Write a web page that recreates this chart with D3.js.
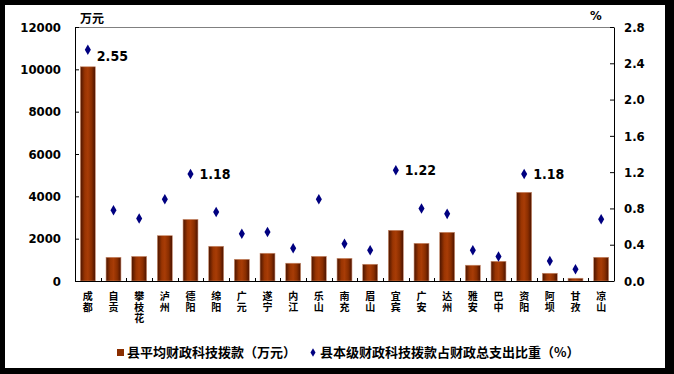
<!DOCTYPE html>
<html><head><meta charset="utf-8">
<script src="https://cdn.jsdelivr.net/npm/d3@7"></script>
<style>
html,body{margin:0;padding:0;background:#fff;}
svg{display:block;}
.num{font-family:"Liberation Sans Narrow","DejaVu Sans Condensed","Arial Narrow",sans-serif;font-weight:bold;}
.cjk{font-family:"Noto Sans CJK SC","Noto Sans",sans-serif;font-weight:bold;}
.vert{writing-mode:vertical-rl;text-orientation:upright;}
</style></head>
<body>
<svg id="chart" width="674" height="374"></svg>
<script>
const categories = ["成都","自贡","攀枝花","泸州","德阳","绵阳","广元","遂宁","内江","乐山","南充","眉山","宜宾","广安","达州","雅安","巴中","资阳","阿坝","甘孜","凉山"];
const avgFunds = [10120,1120,1160,2140,2910,1640,1025,1310,840,1165,1070,790,2395,1780,2300,745,930,4190,365,130,1120];
const sharePct = [2.55,0.78,0.69,0.90,1.18,0.76,0.52,0.54,0.36,0.90,0.41,0.34,1.22,0.80,0.74,0.34,0.27,1.18,0.22,0.13,0.68];
const labelledPoints = ["成都","德阳","宜宾","资阳"];
const leftTicks = [0,2000,4000,6000,8000,10000,12000];
const rightTicks = [0,0.4,0.8,1.2,1.6,2.0,2.4,2.8];
const seriesNames = ["县平均财政科技拨款（万元）","县本级财政科技拨款占财政总支出比重（%）"];
const leftUnit = "万元", rightUnit = "%";

const svg = d3.select("#chart");
svg.append("rect").attr("width",674).attr("height",374).attr("fill","#000");
svg.append("rect").attr("x",5).attr("y",5).attr("width",660).attr("height",363).attr("fill","#fff");

const L=75,R=614,T=27,B=281;
const x = d3.scaleBand().domain(categories).range([L,R]).padding(0);
const yL = d3.scaleLinear().domain([0,12000]).range([B,T]);
const yR = d3.scaleLinear().domain([0,2.8]).range([B,T]);

const defs = svg.append("defs");
const g = defs.append("linearGradient").attr("id","barGrad").attr("x1","0").attr("x2","1").attr("y1","0").attr("y2","0");
[[0,"#4a1400"],[0.3,"#9a3502"],[0.5,"#a83c06"],[0.75,"#8a2e00"],[1,"#4a1200"]].forEach(([o,c])=>g.append("stop").attr("offset",o).attr("stop-color",c));

// top frame line
svg.append("line").attr("x1",L).attr("x2",R).attr("y1",T+0.5).attr("y2",T+0.5).attr("stroke","#808080").attr("stroke-width",1);

const bw = x.bandwidth()*0.58;
svg.append("g").selectAll("rect").data(categories).join("rect")
  .attr("x",(d)=>x(d)+x.bandwidth()/2-bw/2)
  .attr("y",(d,i)=>yL(avgFunds[i]))
  .attr("width",bw)
  .attr("height",(d,i)=>B-yL(avgFunds[i]))
  .attr("fill","url(#barGrad)")
  .attr("stroke","#c98a6a").attr("stroke-width",0.6);

// left axis
const ax1 = svg.append("g").attr("transform",`translate(${L},0)`)
  .call(d3.axisLeft(yL).tickValues(leftTicks).tickFormat(d3.format("d")).tickSizeInner(-4).tickSizeOuter(0).tickPadding(14));
ax1.select(".domain").attr("stroke","#000");
ax1.selectAll("text").attr("class","num").style("font-size","13px").attr("fill","#000");
// right axis
const ax2 = svg.append("g").attr("transform",`translate(${R},0)`)
  .call(d3.axisRight(yR).tickValues(rightTicks).tickFormat(d3.format(".1f")).tickSizeInner(-4).tickSizeOuter(0).tickPadding(10));
ax2.select(".domain").attr("stroke","#000");
ax2.selectAll("text").attr("class","num").style("font-size","13px").attr("fill","#000");

// bottom axis
svg.append("line").attr("x1",L).attr("x2",R).attr("y1",B+0.5).attr("y2",B+0.5).attr("stroke","#000");
const boundaries = categories.slice(1).map(c=>x(c));
svg.append("g").selectAll("line").data(boundaries).join("line")
  .attr("x1",d=>Math.round(d)+0.5).attr("x2",d=>Math.round(d)+0.5).attr("y1",B).attr("y2",B-3).attr("stroke","#000");

// vertical category labels
svg.append("g").selectAll("text").data(categories).join("text")
  .attr("class","cjk vert").style("font-size","10px").style("letter-spacing","1px").attr("fill","#000")
  .attr("x",d=>x(d)+x.bandwidth()/2).attr("y",291)
  .text(d=>d);

// points
const diamond = d3.symbol().type(d3.symbolDiamond).size(32);
svg.append("g").selectAll("path").data(categories).join("path")
  .attr("transform",(d,i)=>`translate(${x(d)+x.bandwidth()/2},${yR(sharePct[i])})`)
  .attr("d",diamond).attr("fill","#000080");

// point labels
svg.append("g").selectAll("text").data(labelledPoints).join("text")
  .attr("class","num").style("font-size","14px")
  .attr("x",d=>x(d)+x.bandwidth()/2+9)
  .attr("y",d=>yR(sharePct[categories.indexOf(d)])+(d==="成都"?11:5))
  .text(d=>sharePct[categories.indexOf(d)].toFixed(2));

// units
svg.append("text").attr("class","cjk").style("font-size","12px").attr("x",80).attr("y",23).text(leftUnit);
svg.append("text").attr("class","num").style("font-size","13px").attr("x",590).attr("y",20).text(rightUnit);

// legend
svg.append("rect").attr("x",117).attr("y",349).attr("width",7).attr("height",7).attr("fill","#8a2e00");
svg.append("text").attr("class","cjk").style("font-size","13px").attr("x",127).attr("y",357).text(seriesNames[0]);
svg.append("path").attr("transform","translate(313,352.5)").attr("d",d3.symbol().type(d3.symbolDiamond).size(22)()).attr("fill","#000080");
svg.append("text").attr("class","cjk").style("font-size","13px").attr("x",320).attr("y",357).text(seriesNames[1]);
</script>
</body></html>
